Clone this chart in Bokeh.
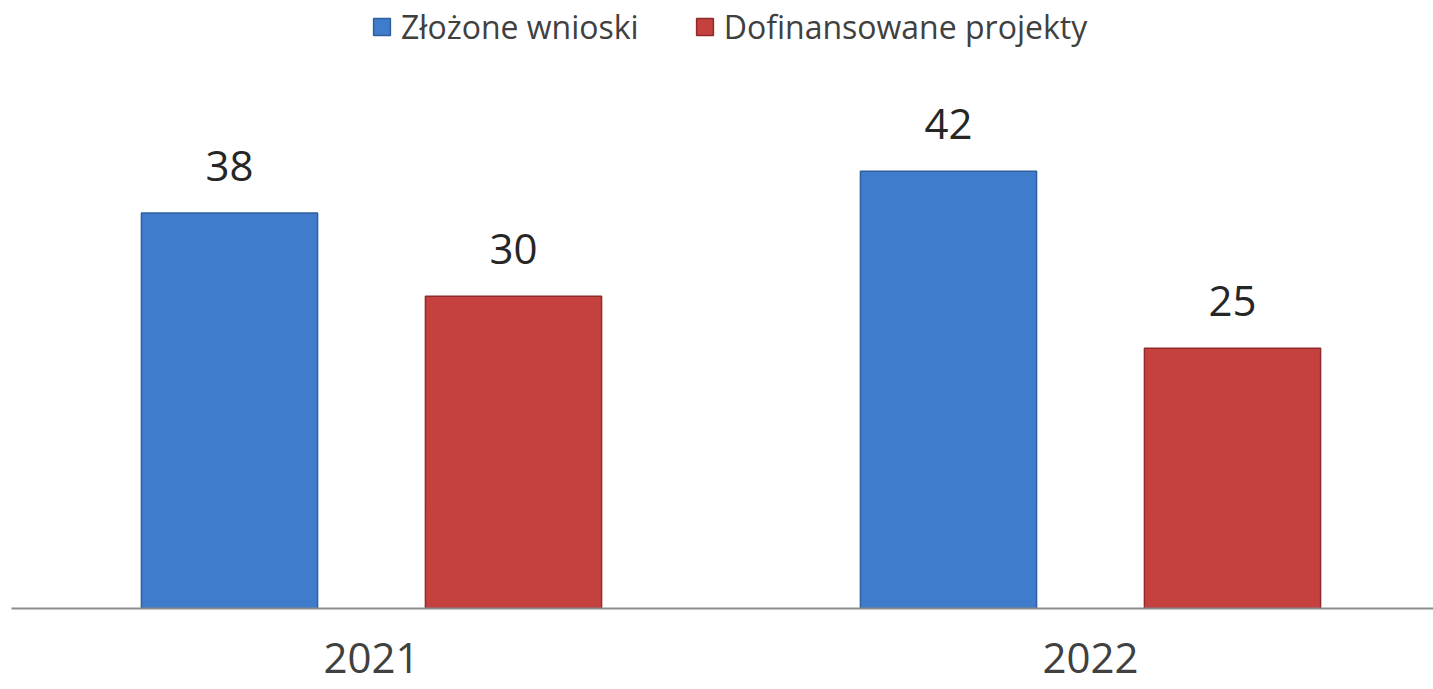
from bokeh.plotting import figure
from bokeh.models import ColumnDataSource, Range1d, FixedTicker, Legend, LegendItem
from bokeh.core.properties import value
from bokeh.embed import file_html
from bokeh.resources import INLINE

years = ["2021", "2022"]
series = ["Złożone wnioski", "Dofinansowane projekty"]
zlozone = [38, 42]
dofinansowane = [30, 25]

fill_colors = ["#3f7dcc", "#c54140"]
edge_colors = ["#2f5f9e", "#8f2b2a"]

W, H = 1433, 689
FRAME_LEFT, FRAME_BOTTOM = 11, 608
UNIT = 719.0
PX_PER_VAL = 10.41

x_start = -(371 - FRAME_LEFT) / UNIT
x_end = x_start + (W - FRAME_LEFT) / UNIT
y_end = FRAME_BOTTOM / PX_PER_VAL

p = figure(width=W, height=H, output_backend="svg", toolbar_location=None,
           x_range=Range1d(x_start, x_end), y_range=Range1d(0, y_end),
           min_border_left=FRAME_LEFT, min_border_right=0, min_border_top=0,
           min_border_bottom=H - FRAME_BOTTOM)
p.outline_line_color = None
p.grid.visible = False
p.yaxis.visible = False
p.background_fill_color = "white"
p.border_fill_color = "white"

offset = 0.1975
bw = 0.245
idx = list(range(len(years)))
renderers = []
for k, (vals, fc, ec) in enumerate(zip([zlozone, dofinansowane], fill_colors, edge_colors)):
    xs = [i + (-offset if k == 0 else offset) for i in idx]
    src = ColumnDataSource(dict(x=xs, top=vals, lab=[str(v) for v in vals]))
    r = p.vbar(x="x", top="top", bottom=0, width=bw, source=src,
               fill_color=fc, line_color=ec, line_width=1.5)
    renderers.append(r)
    p.text(x="x", y="top", text="lab", source=src, text_align="center",
           text_baseline="alphabetic", y_offset=-47, text_font=value("Open Sans"),
           text_font_size="42px", text_color="#262626")

xa = p.xaxis[0]
xa.ticker = FixedTicker(ticks=idx)
xa.major_label_overrides = {i: y for i, y in zip(idx, years)}
xa.major_tick_line_color = None
xa.minor_tick_line_color = None
xa.axis_line_color = "#8c8c8c"
xa.axis_line_width = 2
xa.major_label_text_font = "Open Sans"
xa.major_label_text_font_size = "42px"
xa.major_label_text_color = "#404040"
xa.major_label_standoff = 28

legend = Legend(items=[LegendItem(label=s, renderers=[r]) for s, r in zip(series, renderers)],
                orientation="horizontal", location=(360, 560),
                glyph_width=21, glyph_height=21, label_standoff=9, spacing=55,
                padding=0, margin=0, border_line_alpha=0, background_fill_alpha=0,
                label_text_font="Open Sans", label_text_font_size="32px",
                label_text_color="#404040")
p.add_layout(legend, "center")

open("out.html", "w").write(file_html(p, INLINE))
